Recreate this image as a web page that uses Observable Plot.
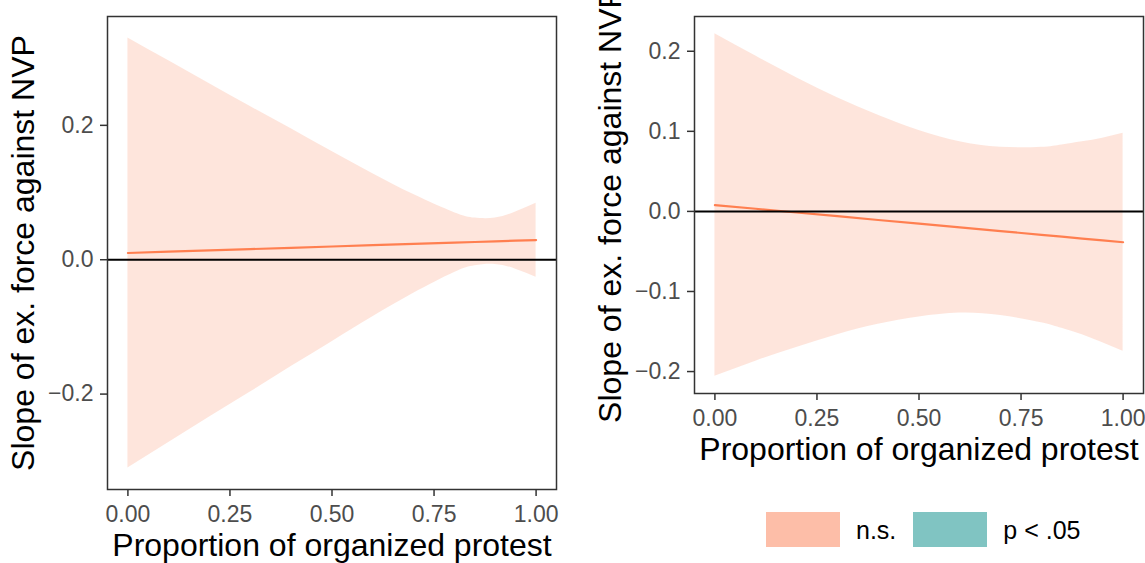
<!DOCTYPE html>
<html><head><meta charset="utf-8">
<script src="https://cdn.jsdelivr.net/npm/d3@7"></script>
<script src="https://cdn.jsdelivr.net/npm/@observablehq/plot@0.6"></script>
<style>
body{margin:0;background:#fff;font-family:"Liberation Sans",Arial,Helvetica,sans-serif;}
#wrap{position:relative;width:1145px;height:563px;overflow:hidden;background:#fff;}
#left{position:absolute;left:0;top:0;}
#right{position:absolute;left:580px;top:0;}
#legend{position:absolute;left:766px;top:512px;display:flex;align-items:center;height:35px;}
.key{width:74px;height:35px;flex:none;}
.lab{font-size:25px;color:#000;line-height:35px;padding-top:2px;margin-left:16px;margin-right:17px;white-space:nowrap;}
</style></head><body>
<div id="wrap"><div id="left"></div><div id="right"></div><div id="legend"></div></div>
<script>
// Shared x positions (proportion of organized protest)
const xs = [0, 0.1, 0.2, 0.3, 0.4, 0.5, 0.6, 0.7, 0.8, 0.85, 0.9, 0.95, 1];
const xTicks = [0, 0.25, 0.5, 0.75, 1];

// Left panel
const leftFit   = [0.0100, 0.0119, 0.0139, 0.0158, 0.0177, 0.0197, 0.0216, 0.0235, 0.0254, 0.0264, 0.0274, 0.0283, 0.0293];
const leftUpper = [0.330, 0.296, 0.262, 0.228, 0.195, 0.161, 0.128, 0.097, 0.070, 0.062, 0.062, 0.071, 0.084];
const leftLower = [-0.310, -0.272, -0.234, -0.197, -0.159, -0.122, -0.085, -0.050, -0.019, -0.009, -0.007, -0.014, -0.026];
const leftYTicks = [-0.2, 0, 0.2];

// Right panel
const rightFit   = [0.0079, 0.0033, -0.0014, -0.0060, -0.0107, -0.0153, -0.0199, -0.0246, -0.0292, -0.0315, -0.0339, -0.0362, -0.0385];
const rightUpper = [0.222, 0.194, 0.167, 0.142, 0.120, 0.101, 0.087, 0.080, 0.080, 0.083, 0.087, 0.0915, 0.0975];
const rightLower = [-0.206, -0.187, -0.170, -0.154, -0.141, -0.132, -0.127, -0.130, -0.139, -0.146, -0.154, -0.164, -0.1745];
const rightYTicks = [-0.2, -0.1, 0, 0.1, 0.2];

const xTitle = "Proportion of organized protest";
const yTitle = "Slope of ex. force against NVP";

const legendLabels = ["n.s.", "p < .05"];
const legendColors = ["#FDBEA8", "#80C4C2"];
const lineColor = "#FF7F50";

const font = '"Liberation Sans", Arial, Helvetica, sans-serif';

function panel({fit, lower, upper, yTicks, width, height, marginLeft, marginRight, marginBottom}) {
  const rows = xs.map((x, i) => ({x, fit: fit[i], lo: lower[i], hi: upper[i]}));
  const lo = d3.min(lower), hi = d3.max(upper), pad = (hi - lo) * 0.05;
  return Plot.plot({
    width, height, marginTop: 16, marginLeft, marginRight, marginBottom,
    style: {fontFamily: font, background: "white"},
    x: {domain: [-0.05, 1.05]},
    y: {domain: [lo - pad, hi + pad]},
    marks: [
      Plot.areaY(rows, {x: "x", y1: "lo", y2: "hi", fill: legendColors[0], fillOpacity: 0.4, curve: "natural"}),
      Plot.lineY(rows, {x: "x", y: "fit", stroke: lineColor, strokeWidth: 2.2}),
      Plot.ruleY([0], {stroke: "black", strokeWidth: 2}),
      Plot.frame({stroke: "#333333", strokeWidth: 1.5}),
      Plot.axisX(xTicks, {tickFormat: d3.format(".2f"), tickSize: 7, tickPadding: 9, fontSize: 23,
        stroke: "#333333", color: "#4d4d4d", fill: "#4d4d4d", strokeWidth: 1.5, label: null}),
      Plot.axisY(yTicks, {tickFormat: d3.format(".1f"), tickSize: 7, tickPadding: 7, fontSize: 23,
        stroke: "#333333", color: "#4d4d4d", fill: "#4d4d4d", strokeWidth: 1.5, label: null}),
      Plot.text([xTitle], {text: d => d, frameAnchor: "bottom", textAnchor: "middle", dy: 66.7, lineAnchor: "bottom", fontSize: 32, fill: "black"}),
      Plot.text([yTitle], {text: d => d, frameAnchor: "left", textAnchor: "middle", dx: -74, rotate: -90, lineAnchor: "bottom", fontSize: 32, fill: "black"})
    ]
  });
}

document.getElementById("left").append(panel({
  fit: leftFit, lower: leftLower, upper: leftUpper, yTicks: leftYTicks,
  width: 570, height: 563, marginLeft: 107, marginRight: 14, marginBottom: 74
}));
document.getElementById("right").append(panel({
  fit: rightFit, lower: rightLower, upper: rightUpper, yTicks: rightYTicks,
  width: 565, height: 480, marginLeft: 114, marginRight: 2, marginBottom: 87
}));

const legend = document.getElementById("legend");
legendLabels.forEach((lab, i) => {
  const k = document.createElement("div");
  k.className = "key";
  k.style.background = legendColors[i];
  legend.append(k);
  const t = document.createElement("div");
  t.className = "lab";
  t.textContent = lab;
  legend.append(t);
});
</script>
</body></html>
